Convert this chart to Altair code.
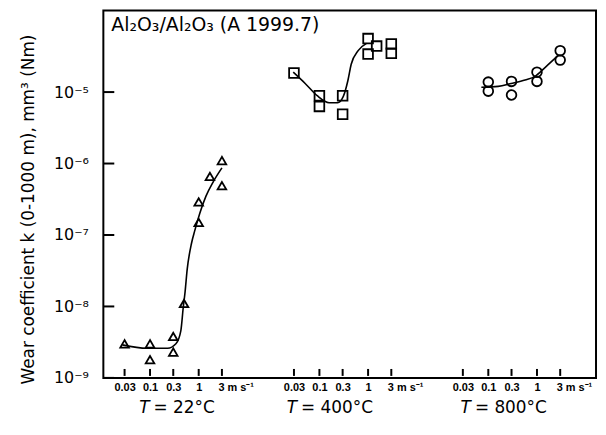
import numpy as np
import pandas as pd
import altair as alt

# ---------------- data ----------------
# T = 22 degC  (open triangles) and hand-drawn fit curve
speed_22 = [0.03, 0.1, 0.1, 0.3, 0.3, 0.5, 1, 1, 1.7, 3, 3]
k_22 = [3.0e-9, 3.0e-9, 1.8e-9, 3.8e-9, 2.3e-9, 1.1e-8, 2.9e-7, 1.5e-7, 6.6e-7, 1.1e-6, 4.9e-7]
fit_speed_22 = [0.027, 0.086, 0.23, 0.34, 0.43, 0.48, 0.525, 0.58, 0.71, 0.83, 1.05, 1.41, 2.0, 3.0]
fit_k_22 = [2.9e-9, 2.6e-9, 2.6e-9, 3.0e-9, 4.6e-9, 9.5e-9, 1.6e-8, 3.3e-8, 7.6e-8,
            1.15e-7, 2.0e-7, 3.5e-7, 5.6e-7, 8.7e-7]

# T = 400 degC (open squares)
speed_400 = [0.03, 0.1, 0.1, 0.3, 0.3, 1, 1, 1.5, 3, 3]
k_400 = [1.85e-5, 8.9e-6, 6.3e-6, 8.9e-6, 4.9e-6, 5.6e-5, 3.4e-5, 4.4e-5, 4.7e-5, 3.5e-5]
fit_speed_400 = [0.029, 0.051, 0.09, 0.158, 0.237, 0.31, 0.385, 0.45, 0.625, 0.93]
fit_k_400 = [1.9e-5, 1.32e-5, 8.9e-6, 7.1e-6, 7.1e-6, 8.7e-6, 1.45e-5, 2.45e-5, 3.8e-5, 4.8e-5]

# T = 800 degC (open circles)
speed_800 = [0.1, 0.1, 0.3, 0.3, 1, 1, 3, 3]
k_800 = [1.38e-5, 1.03e-5, 1.41e-5, 9.1e-6, 1.9e-5, 1.41e-5, 3.8e-5, 2.8e-5]
fit_speed_800 = [0.072, 0.16, 0.295, 0.57, 0.91, 1.5, 2.7]
fit_k_800 = [1.17e-5, 1.2e-5, 1.32e-5, 1.48e-5, 1.66e-5, 2.24e-5, 3.24e-5]

temperatures = ["22", "400", "800"]
temp_labels = ["= 22°C", "= 400°C", "= 800°C"]
tick_speeds = [0.03, 0.1, 0.3, 1, 3]
y_tick_values = [1e-9, 1e-8, 1e-7, 1e-6, 1e-5]
title_text = "Al₂O₃/Al₂O₃ (A 1999.7)"
y_title = "Wear coefficient k (0-1000 m), mm³ (Nm)"

# ---------------- layout helpers ----------------
offsets = {"22": 0.0, "400": 3.48, "800": 6.95}   # horizontal shift of each speed block (decades)
label_anchor_speed = {"22": 0.118, "400": 0.042, "800": 0.053}

def block(speeds, ks, T):
    return pd.DataFrame({"speed": speeds, "k": ks, "T": T,
                         "pos": np.log10(speeds) + offsets[T]})

pts22 = block(speed_22, k_22, "22")
pts400 = block(speed_400, k_400, "400")
pts800 = block(speed_800, k_800, "800")
fits = pd.concat([block(fit_speed_22, fit_k_22, "22"),
                  block(fit_speed_400, fit_k_400, "400"),
                  block(fit_speed_800, fit_k_800, "800")])

xticks = pd.DataFrame({"pos": [np.log10(s) + offsets[T] for T in temperatures for s in tick_speeds]})
yticks = pd.DataFrame({"k": y_tick_values})
tlabels = pd.DataFrame({"T": temperatures, "txt": temp_labels,
                        "pos": [np.log10(label_anchor_speed[T]) + offsets[T] for T in temperatures]})
titledf = pd.DataFrame({"txt": [title_text]})

W, H = 496, 370
xscale = alt.Scale(domain=[-1.959, 8.163], nice=False, zero=False)
yscale = alt.Scale(type="log", domain=[1e-9, 1.39e-4], nice=False)

S = f"pow(10, datum.value - (datum.value < 1 ? 0 : (datum.value < 5 ? {offsets['400']} : {offsets['800']})))"
x_label_expr = f"format({S}, '.1r') + ({S} > 2 ? ' m s⁻¹' : '')"

xaxis = alt.Axis(values=list(xticks["pos"]), labelExpr=x_label_expr, domain=False, ticks=False,
                 tickSize=0, grid=False, title=None, labelFont="Liberation Sans",
                 labelFontWeight="bold", labelFontSize=11, labelColor="black", labelPadding=4,
                 labelOverlap=False, labelBound=False, labelFlush=False, labelBaseline="top",
                 labelAlign={"condition": {"test": f"{S} > 2", "value": "left"}, "value": "center"},
                 labelOffset={"condition": {"test": f"{S} > 2", "value": -4}, "value": 0})

yaxis = alt.Axis(values=y_tick_values,
                 labelExpr="'10⁻' + ['⁰','¹','²','³','⁴','⁵','⁶','⁷','⁸','⁹'][round(-log(datum.value)/LN10)]",
                 domain=False, ticks=False, tickSize=0, grid=False, title=y_title,
                 titleFont="DejaVu Sans", titleFontSize=17, titleFontWeight="normal",
                 titleColor="black", titlePadding=16, titleY=200,
                 labelFont="DejaVu Sans", labelFontSize=16, labelColor="black", labelPadding=15,
                 labelOverlap=False)

X = alt.X("pos:Q", scale=xscale, axis=xaxis)
Y = alt.Y("k:Q", scale=yscale, axis=yaxis)

xt_layer = alt.Chart(xticks).mark_rule(color="black", strokeWidth=2).encode(
    x=X, y=alt.value(361), y2=alt.value(368))

yt_layer = alt.Chart(yticks).mark_rule(color="black", strokeWidth=2).encode(
    y=Y, x=alt.value(0), x2=alt.value(11))

fit_layer = alt.Chart(fits).mark_line(color="black", strokeWidth=1.6, interpolate="monotone").encode(
    x=X, y=Y, detail="T:N")
tri = alt.Chart(pts22).mark_point(shape="triangle-up", filled=False, size=75, color="black",
                                  strokeWidth=1.8, opacity=1).encode(x=X, y=Y)
sq = alt.Chart(pts400).mark_point(shape="square", filled=False, size=95, color="black",
                                  strokeWidth=1.8, opacity=1).encode(x=X, y=Y)
circ = alt.Chart(pts800).mark_point(shape="circle", filled=False, size=95, color="black",
                                    strokeWidth=1.8, opacity=1).encode(x=X, y=Y)

t_italic = alt.Chart(tlabels).mark_text(text="T", font="DejaVu Sans", fontSize=17, fontStyle="italic",
                                        align="right", baseline="alphabetic", dx=-4, color="black").encode(
    x=X, y=alt.value(405))
t_rest = alt.Chart(tlabels).mark_text(font="DejaVu Sans", fontSize=17, align="left",
                                      baseline="alphabetic", color="black").encode(
    x=X, y=alt.value(405), text="txt:N")

title_layer = alt.Chart(titledf).mark_text(font="DejaVu Sans", fontSize=19, align="left",
                                           baseline="alphabetic", color="black").encode(
    x=alt.value(8), y=alt.value(21), text="txt:N")

chart = alt.layer(xt_layer, yt_layer, fit_layer, tri, sq, circ, t_italic, t_rest, title_layer).properties(
    width=W, height=H,
    autosize=alt.AutoSizeParams(type="none"),
    padding={"left": 96, "top": 1, "right": 2, "bottom": 45},
    background="white",
).configure_view(stroke="black", strokeWidth=2)

chart.save("out.html", embed_options={"renderer": "svg", "actions": False})
